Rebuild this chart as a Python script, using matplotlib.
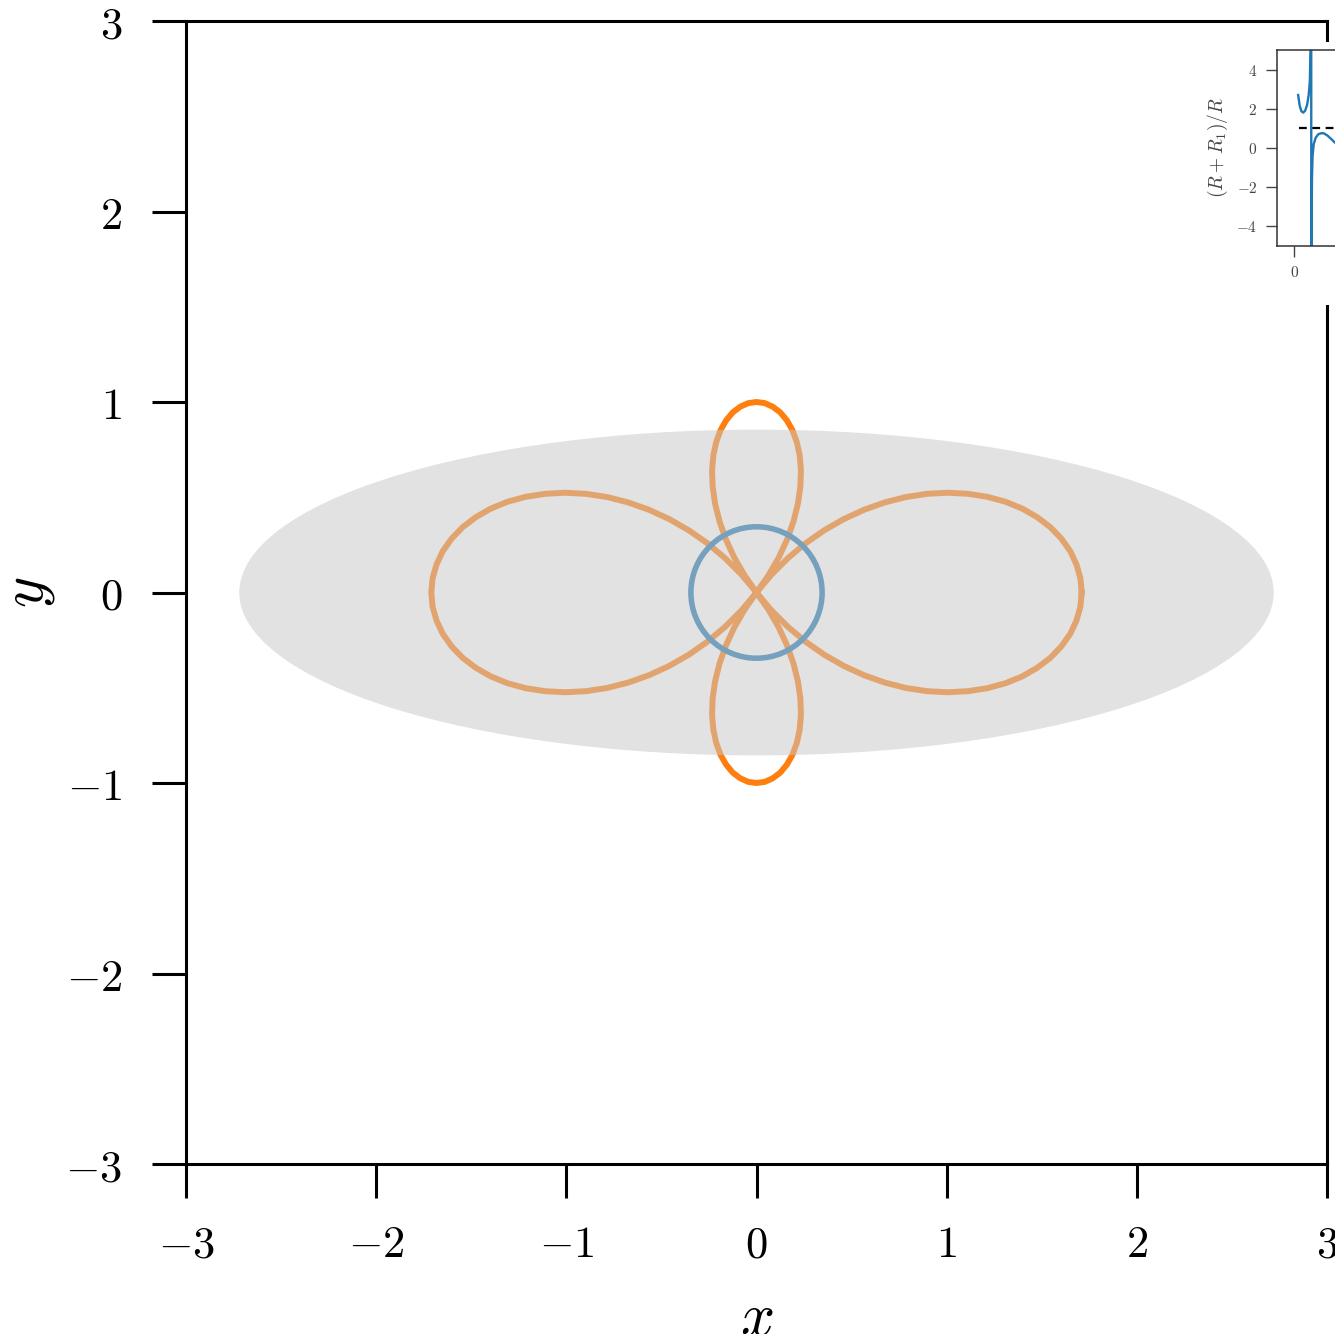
import numpy as np
import matplotlib
matplotlib.use("Agg")
import matplotlib.pyplot as plt
from matplotlib.patches import Circle, Ellipse, Rectangle
from matplotlib.ticker import FuncFormatter

plt.rcParams["mathtext.fontset"] = "cm"
plt.rcParams["font.family"] = "serif"
plt.rcParams["font.serif"] = ["DejaVu Serif"]

# petal curve: signed radius every 2.5 deg over the first quadrant
# (negative radius points into the opposite quadrant)
petal_step = 2.5
petal_r = [1.710, 1.705, 1.689, 1.664, 1.628, 1.583, 1.528, 1.465, 1.393, 1.313,
           1.226, 1.134, 1.036, 0.933, 0.825, 0.714, 0.600, 0.484, 0.366, 0.245,
           0.124, 0.006, -0.108, -0.218, -0.323, -0.422, -0.516, -0.603, -0.683,
           -0.755, -0.818, -0.873, -0.918, -0.954, -0.979, -0.995, -1.000]

circle_r = 0.345
ell_width, ell_height = 5.44, 1.71

# inset: (R + R1)/R against the swept parameter
ins_x_left = [0.10, 0.14, 0.18, 0.23, 0.28, 0.33, 0.37, 0.40, 0.42, 0.434]
ins_y_left = [2.70, 2.15, 1.88, 1.80, 1.90, 2.20, 2.70, 3.40, 5.50, 30.0]
ins_x_right = [0.438, 0.445, 0.455, 0.47, 0.50, 0.55, 0.62, 0.70, 0.76, 0.85, 0.95, 1.04,
               1.3, 1.8, 2.5, 3.5, 4.5]
ins_y_right = [-30.0, -4.0, -1.5, -0.40, 0.20, 0.52, 0.70, 0.75, 0.74, 0.63, 0.45, 0.27,
               -0.1, -0.4, -0.6, -0.7, -0.75]
ins_ref = 1.0

W, H = 1335, 1334
fig = plt.figure(figsize=(W / 100, H / 100), dpi=100)
ax = fig.add_axes([186 / W, (H - 1164) / H, 1141 / W, 1143 / H])

# full curve from the quadrant: r(180 - t) = r(t), r(t + 180) = r(t)
half_r = petal_r + petal_r[-2::-1]
full_r = np.array(half_r + half_r[1:])
full_t = np.deg2rad(np.arange(len(full_r)) * petal_step)
ax.plot(full_r * np.cos(full_t), full_r * np.sin(full_t), color="#ff7f0e", lw=4.3,
        solid_joinstyle="round", zorder=2)
ax.add_patch(Circle((0, 0), circle_r, fill=False, edgecolor="#1f77b4", lw=4.0, zorder=2))
ax.add_patch(Ellipse((0, 0), ell_width, ell_height, facecolor="#c8c8c8", edgecolor="none",
                     alpha=0.52, zorder=3))

ax.set_xlim(-3, 3)
ax.set_ylim(-3, 3)
ax.set_xticks(range(-3, 4))
ax.set_yticks(range(-3, 4))
fmt = FuncFormatter(lambda v, p: f"${int(round(v))}$")
ax.xaxis.set_major_formatter(fmt)
ax.yaxis.set_major_formatter(fmt)
ax.tick_params(direction="out", length=24.5, width=2.2, labelsize=32, pad=18)
ax.tick_params(axis="y", pad=21.5)
for s in ax.spines.values():
    s.set_linewidth(2.2)
ax.set_xlabel("$x$", fontsize=43, va="top")
ax.xaxis.set_label_coords(0.5, -0.109)
ax.set_ylabel("$y$", fontsize=43, va="center")
ax.yaxis.set_label_coords(-0.1385, 0.5)

# white backing under the inset
fig.add_artist(Rectangle((1195 / W, (H - 305) / H), 1 - 1195 / W, 263 / H,
                         transform=fig.transFigure, facecolor="white", edgecolor="none",
                         zorder=1))

ins = fig.add_axes([1276.7 / W, (H - 245.7) / H, 195 / W, 195.7 / H])
ins.set_zorder(2)
ins.plot(ins_x_left + ins_x_right, ins_y_left + ins_y_right, color="#1f77b4", lw=1.7)
ins.axhline(ins_ref, xmin=(0.12 + 0.45) / 5.0, color="black", lw=1.6, ls=(0, (3.5, 2.5)))
ins.set_xlim(-0.45, 4.55)
ins.set_ylim(-5, 5)
ins.set_xticks([0, 2, 4])
ins.set_yticks([-4, -2, 0, 2, 4])
ins.xaxis.set_major_formatter(fmt)
ins.yaxis.set_major_formatter(fmt)
ins.tick_params(direction="out", length=8, width=1.0, labelsize=11, pad=6,
                color="#444444", labelcolor="#444444")
for s in ins.spines.values():
    s.set_linewidth(1.1)
    s.set_color("#333333")
ins.set_ylabel("$(R+R_1)/R$", fontsize=14, color="#444444", va="center")
ins.yaxis.set_label_coords(-0.30, 0.5)

fig.savefig("out.png", dpi=100)
